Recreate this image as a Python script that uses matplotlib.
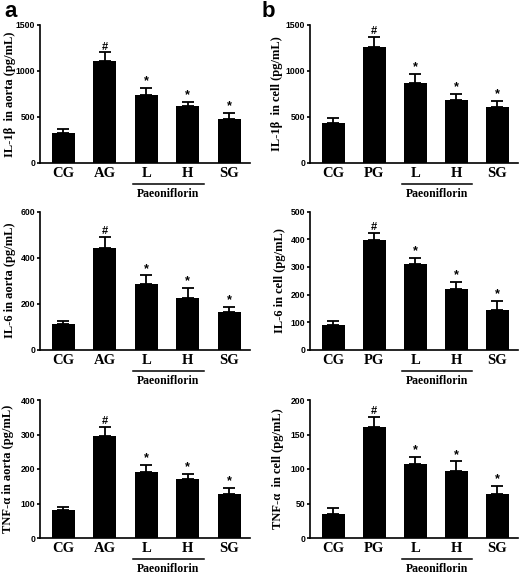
#!/usr/bin/env python3

"""
Cytokine levels in aorta (a) and cells (b), bar charts with upper error bars.
"""

import matplotlib

matplotlib.use("Agg")
import matplotlib.pyplot as plt
import numpy as np
from matplotlib import transforms

groups_aorta = ["CG", "AG", "L", "H", "SG"]
groups_cell = ["CG", "PG", "L", "H", "SG"]
marks = ["", "#", "*", "*", "*"]

il1b_aorta = [325, 1113, 734, 620, 474]
il1b_aorta_err = [40, 91, 80, 48, 70]
il1b_cell = [440, 1264, 872, 681, 608]
il1b_cell_err = [54, 106, 99, 74, 70]

il6_aorta = [112, 443, 287, 223, 164]
il6_aorta_err = [13, 48, 36, 44, 23]
il6_cell = [89, 398, 311, 219, 143]
il6_cell_err = [15, 25, 22, 27, 34]

tnf_aorta = [81, 297, 191, 172, 127]
tnf_aorta_err = [8, 26, 22, 13, 17]
tnf_cell = [35, 161, 107, 97, 64]
tnf_cell_err = [9, 15, 11, 14, 11]

SERIF = "Liberation Serif"
SANS = "Liberation Sans"

W, H = 520, 574
fig = plt.figure(figsize=(W / 100, H / 100), dpi=100)

# (values, errors, groups, y label, ymax, tick step)
panels = [
    [
        (il1b_aorta, il1b_aorta_err, groups_aorta, "IL-1β  in aorta (pg/mL)", 1500, 500),
        (il1b_cell, il1b_cell_err, groups_cell, "IL-1β  in cell (pg/mL)", 1500, 500),
    ],
    [
        (il6_aorta, il6_aorta_err, groups_aorta, "IL-6 in aorta (pg/mL)", 600, 200),
        (il6_cell, il6_cell_err, groups_cell, "IL-6 in cell (pg/mL)", 500, 100),
    ],
    [
        (tnf_aorta, tnf_aorta_err, groups_aorta, "TNF-α in aorta (pg/mL)", 400, 100),
        (tnf_cell, tnf_cell_err, groups_cell, "TNF-α  in cell (pg/mL)", 200, 50),
    ],
]

row_tops = [25, 211.7, 400]  # pixels from top
axes_h = 138
col_left = [40, 310]
col_w = [210, 208]
# pixel x of the right edge of each y label (rotated text)
label_right = [[16, 283], [16, 286], [14, 284]]

for r, row in enumerate(panels):
    for c, (vals, errs, groups, ylabel, ymax, step) in enumerate(row):
        left = col_left[c] / W
        bottom = 1 - (row_tops[r] + axes_h) / H
        ax = fig.add_axes([left, bottom, col_w[c] / W, axes_h / H])
        x = np.arange(len(vals))
        ax.bar(x, vals, width=0.56, color="black", zorder=2)
        ax.errorbar(
            x, vals, yerr=[np.zeros(len(errs)), errs], fmt="none",
            ecolor="black", elinewidth=1.3, capsize=4, capthick=1.3, zorder=1,
        )
        for xi, v, e, m in zip(x, vals, errs, marks):
            if m:
                ax.annotate(
                    m, (xi, v + e), xytext=(0, 0.5), textcoords="offset points",
                    ha="center", va="bottom", fontsize=8 if m == "#" else 9,
                    fontweight="bold", family=SANS,
                )
        ax.set_xlim(-0.56, 4.5)
        ax.set_ylim(0, ymax)
        ax.set_yticks(np.arange(0, ymax + 1, step))
        ax.set_xticks(x)
        ax.set_xticklabels(groups, family=SERIF, fontweight="bold", fontsize=10.5)
        for lab in ax.get_yticklabels():
            lab.set_family(SANS)
            lab.set_fontweight("bold")
            lab.set_fontsize(6.2)
        ax.tick_params(axis="x", length=0, pad=3)
        ax.tick_params(axis="y", length=2.5, width=1.2, pad=1)
        for side in ["top", "right"]:
            ax.spines[side].set_visible(False)
        for side in ["left", "bottom"]:
            ax.spines[side].set_linewidth(1.2)
        ax.set_ylabel(ylabel, family=SERIF, fontweight="bold", fontsize=9)
        ax.yaxis.set_label_coords((label_right[r][c] - col_left[c]) / col_w[c], 0.5)

        # Paeoniflorin group bracket under L and H
        trans = transforms.blended_transform_factory(ax.transData, ax.transAxes)
        ax.plot([1.68, 3.38], [-0.155, -0.155], color="black", lw=1.1,
                transform=trans, clip_on=False)
        ax.text(2.53, -0.225, "Paeoniflorin", transform=trans, ha="center", va="center",
                family=SERIF, fontweight="bold", fontsize=8.5)

fig.text(0.008, 0.998, "a", ha="left", va="top", family=SANS, fontweight="bold", fontsize=16)
fig.text(0.503, 0.998, "b", ha="left", va="top", family=SANS, fontweight="bold", fontsize=16)

fig.savefig("out.png", dpi=100)
plt.close(fig)
